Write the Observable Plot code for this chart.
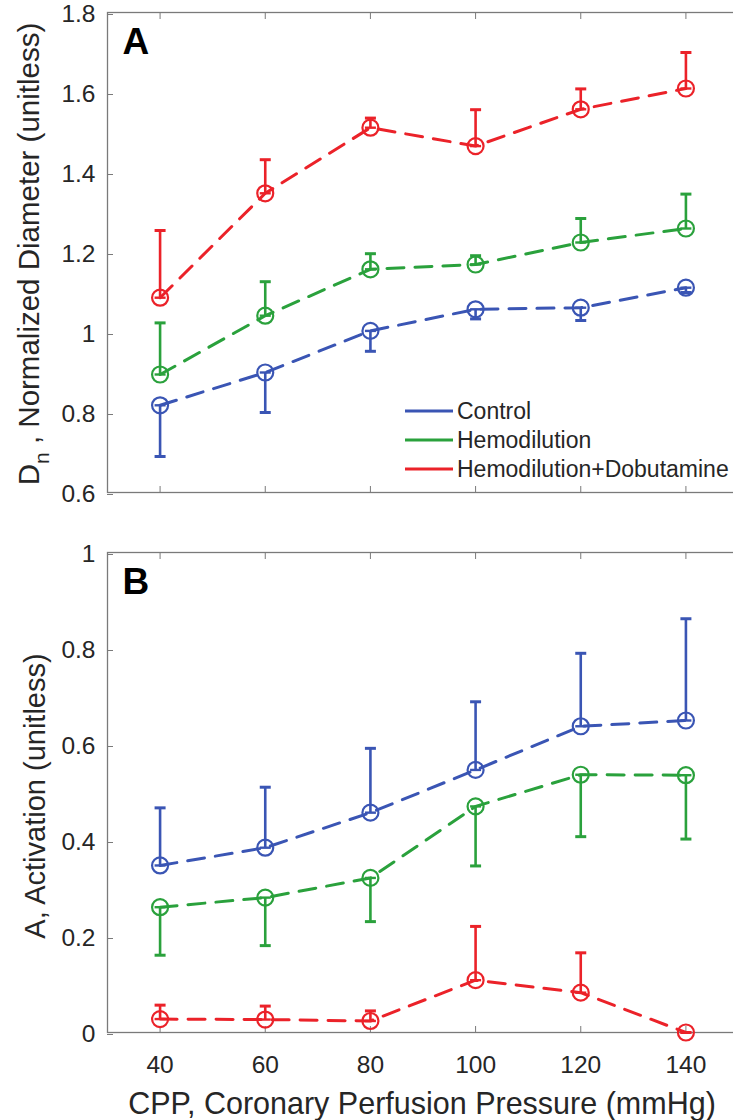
<!DOCTYPE html>
<html><head><meta charset="utf-8">
<script src="https://cdn.jsdelivr.net/npm/d3@7"></script>
<script src="https://cdn.jsdelivr.net/npm/@observablehq/plot@0.6"></script>
<style>
html,body{margin:0;padding:0;background:#fff;overflow:hidden;width:733px}
#chart{position:relative;width:733px;height:1120px;overflow:hidden}
#chart svg{display:block;max-width:none !important;overflow:hidden;position:absolute;left:0}
</style></head><body><div id="chart"></div><script>
// ---- data ----
const cpp = [40, 60, 80, 100, 120, 140];
const series = ["Control", "Hemodilution", "Hemodilution+Dobutamine"];
const colors = ["#3a55b4", "#2aa13c", "#eb2229"];
// Panel A: normalized diameter (mean, end of one-sided error bar)
const dnControl    = [0.818, 0.900, 1.004, 1.058, 1.062, 1.112];
const dnControlErr = [0.690, 0.800, 0.953, 1.034, 1.030, 1.100];
const dnHemo       = [0.895, 1.042, 1.158, 1.170, 1.225, 1.260];
const dnHemoErr    = [1.024, 1.127, 1.197, 1.192, 1.285, 1.346];
const dnDob        = [1.087, 1.348, 1.512, 1.466, 1.558, 1.610];
const dnDobErr     = [1.255, 1.432, 1.536, 1.557, 1.609, 1.700];
// Panel B: activation
const actControl    = [0.348, 0.385, 0.458, 0.547, 0.638, 0.650];
const actControlErr = [0.468, 0.511, 0.592, 0.689, 0.790, 0.862];
const actHemo       = [0.261, 0.281, 0.322, 0.471, 0.537, 0.536];
const actHemoErr    = [0.161, 0.181, 0.231, 0.347, 0.408, 0.403];
const actDob        = [0.028, 0.027, 0.024, 0.109, 0.083, 0.000];
const actDobErr     = [0.057, 0.055, 0.045, 0.221, 0.166, 0.000];
const xTicks = [40, 60, 80, 100, 120, 140];
const yTicksA = [0.6, 0.8, 1.0, 1.2, 1.4, 1.6, 1.8];
const yTicksB = [0, 0.2, 0.4, 0.6, 0.8, 1];

function rows(means, errs) {
  const out = [];
  means.forEach((m, s) => m.forEach((v, i) => out.push({cpp: cpp[i], series: series[s], mean: v, err: errs[s][i]})));
  return out;
}
const dataA = rows([dnControl, dnHemo, dnDob], [dnControlErr, dnHemoErr, dnDobErr]);
const dataB = rows([actControl, actHemo, actDob], [actControlErr, actHemoErr, actDobErr]);

const FONT = "'Liberation Sans', Arial, Helvetica, sans-serif";
const TXT = "#262626";
const AX = "#7a7a7a";
const capSymbol = {draw(ctx, size) { const w = Math.sqrt(size / Math.PI); ctx.moveTo(-w, 0); ctx.lineTo(w, 0); }};

function panel({data, yDomain, yTicks, height, marginTop, marginBottom, showX, letter}) {
  const fmt = d => String(+d.toFixed(1));
  return Plot.plot({
    width: 733, height, marginLeft: 107, marginRight: -5, marginTop, marginBottom,
    style: {fontFamily: FONT, fontSize: "24.5px", color: TXT, background: "transparent", maxWidth: "none"},
    x: {domain: [30, 150], label: null},
    y: {domain: yDomain, label: null},
    color: {domain: series, range: colors},
    marks: [
      Plot.frame({stroke: AX, strokeWidth: 1.3}),
      Plot.axisY({ticks: yTicks, tickSize: -6, tickPadding: 18, tickFormat: fmt, stroke: AX, label: null, fill: TXT, dy: 2}),
      Plot.axisY({anchor: "right", ticks: yTicks, tickSize: -6, tickFormat: () => "", stroke: AX, label: null}),
      Plot.axisX({ticks: xTicks, tickSize: -6, tickPadding: 29, tickFormat: showX ? (d => String(d)) : (() => ""), stroke: AX, label: null, fill: TXT}),
      Plot.axisX({anchor: "top", ticks: xTicks, tickSize: -6, tickFormat: () => "", stroke: AX, label: null}),
      Plot.line(data, {x: "cpp", y: "mean", z: "series", stroke: "series", strokeWidth: 3, strokeDasharray: "17,11"}),
      Plot.ruleX(data, {x: "cpp", y1: "mean", y2: "err", stroke: "series", strokeWidth: 2.6}),
      Plot.dot(data, {x: "cpp", y: "err", stroke: "series", symbol: capSymbol, r: 5.5, strokeWidth: 3}),
      Plot.dot(data, {x: "cpp", y: "mean", stroke: "series", symbol: capSymbol, r: 5.5, strokeWidth: 2.4}),
      Plot.dot(data, {x: "cpp", y: "mean", stroke: "series", r: 8, strokeWidth: 2.2, fill: "none"}),
      Plot.text([letter], {frameAnchor: "top-left", dx: 15, dy: 15, lineAnchor: "top", text: d => d, fontWeight: "bold", fontSize: 37, fill: "#000", fontFamily: "'Liberation Sans Narrow', 'Liberation Sans', Arial, sans-serif"})
    ]
  });
}

const chart = document.getElementById("chart");
const svgA = panel({data: dataA, yDomain: [0.6, 1.8], yTicks: yTicksA, height: 530, marginTop: 12, marginBottom: 38, showX: false, letter: "A"});
const svgB = panel({data: dataB, yDomain: [0, 1], yTicks: yTicksB, height: 620, marginTop: 52, marginBottom: 88, showX: true, letter: "B"});
svgA.style.top = "0px";
svgB.style.top = "500px";
chart.append(svgA, svgB);

// y-axis labels
const sA = d3.select(svgA);
const tA = sA.append("text").attr("transform", "translate(39,254) rotate(-90)")
  .attr("text-anchor", "middle").attr("font-family", FONT).attr("font-size", 29.5).attr("fill", TXT);
tA.append("tspan").text("D");
tA.append("tspan").attr("dy", 10).attr("font-size", 21).text("n");
tA.append("tspan").attr("dy", -10).text(" , Normalized Diameter (unitless)");

const sB = d3.select(svgB);
sB.append("text").attr("transform", "translate(45,296) rotate(-90)")
  .attr("text-anchor", "middle").attr("font-family", FONT).attr("font-size", 29).attr("fill", TXT)
  .text("A, Activation (unitless)");
sB.append("text").attr("x", 422).attr("y", 614).attr("text-anchor", "middle")
  .attr("font-family", FONT).attr("font-size", 30.5).attr("fill", TXT)
  .text("CPP, Coronary Perfusion Pressure (mmHg)");

// legend (panel A)
const lg = sA.append("g").attr("font-family", FONT).attr("font-size", 23).attr("fill", TXT).attr("text-anchor", "start");
series.forEach((s, i) => {
  const y = 411 + i * 29;
  lg.append("line").attr("x1", 405).attr("x2", 453).attr("y1", y).attr("y2", y)
    .attr("stroke", colors[i]).attr("stroke-width", 3);
  lg.append("text").attr("x", 457).attr("y", y).attr("dy", "0.35em").attr("text-anchor", "start").text(s);
});
</script></body></html>
